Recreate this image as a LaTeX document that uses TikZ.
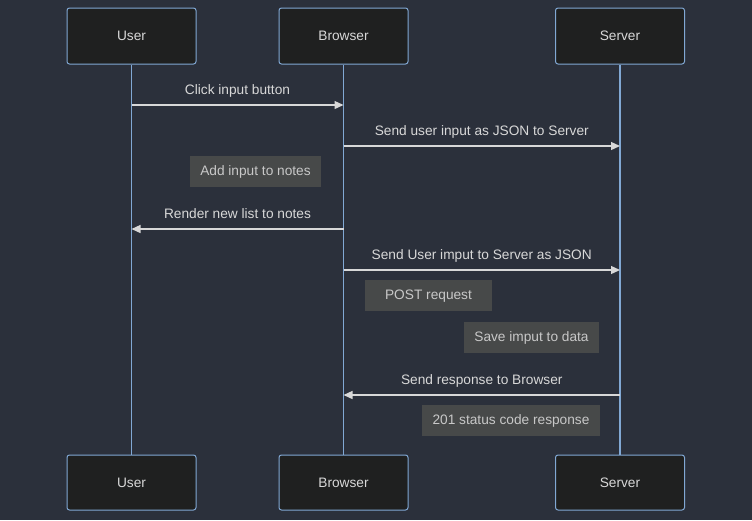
\documentclass[tikz,border=0pt]{standalone}
\usepackage{fontspec}
\setmainfont{Liberation Sans}
\usepackage{xcolor}
\usepackage{tikz}
\usetikzlibrary{arrows.meta}
\usetikzlibrary{positioning}
\definecolor{bgc}{HTML}{2B303B}
\definecolor{actorbg}{HTML}{1F2020}
\definecolor{actorline}{HTML}{81A8D4}
\definecolor{msgc}{HTML}{D8D8D8}
\definecolor{notebg}{HTML}{474949}
\definecolor{notetext}{HTML}{C8C8C8}

\begin{document}
\begin{tikzpicture}[x=1pt,y=-1pt,font=\fontsize{13.7}{16}\selectfont,
	actor/.style={draw=actorline,fill=actorbg,text=msgc,rounded corners=2.5pt,minimum width=129pt,minimum height=56pt,line width=1pt},
	life/.style={actorline,line width=1.1pt},
	msg/.style={msgc,line width=1.3pt,-{Triangle[length=9pt,width=8pt]}},
	lbl/.style={text=msgc,anchor=base,yshift=11pt,inner sep=0pt},
	note/.style={fill=notebg,text=notetext,inner xsep=10.5pt,minimum height=31pt,text depth=1pt}]
	\fill[bgc] (0,0) rectangle (752,520);
	\useasboundingbox (0,0) rectangle (752,520);
	
	\node [actor] (userTop) at (131.5,36) {User};
	\node [actor] (browserTop) at (343.5,36) {Browser};
	\node [actor] (serverTop) at (620,36) {Server};
	\node [actor,minimum height=55pt] (userBot) at (131.5,482.5) {User};
	\node [actor,minimum height=55pt] (browserBot) at (343.5,482.5) {Browser};
	\node [actor,minimum height=55pt] (serverBot) at (620,482.5) {Server};
	
	\draw[life] (userTop) -- (userBot);
	\draw[life] (browserTop) -- (browserBot);
	\draw[life] (serverTop) -- (serverBot);
	
	% message heights
	\coordinate (m1) at (0,105);
	\coordinate (m2) at (0,146);
	\coordinate (m3) at (0,229);
	\coordinate (m4) at (0,270);
	\coordinate (m5) at (0,395);
	
	\draw[msg] (userTop |- m1) -- (browserTop |- m1) node[lbl,midway]{Click input button};
	\draw[msg] (browserTop |- m2) -- (serverTop |- m2) node[lbl,midway]{Send user input as JSON to Server};
	\draw[msg] (browserTop |- m3) -- (userTop |- m3) node[lbl,midway]{Render new list to notes};
	\draw[msg] (browserTop |- m4) -- (serverTop |- m4) node[lbl,midway]{Send User imput to Server as JSON};
	\draw[msg] (serverTop |- m5) -- (browserTop |- m5) node[lbl,midway]{Send response to Browser};
	
	\node [note,minimum width=131pt] (addNote) at (255.5,171.5) {Add input to notes};
	\node [note,minimum width=127pt] (postNote) at (428.5,295.5) {POST request};
	\node [note,minimum width=133pt] (saveNote) at (531.5,337.5) {Save imput to data};
	\node [note,minimum width=174pt] (statusNote) at (511,420.5) {201 status code response};
	
\end{tikzpicture}
\end{document}
